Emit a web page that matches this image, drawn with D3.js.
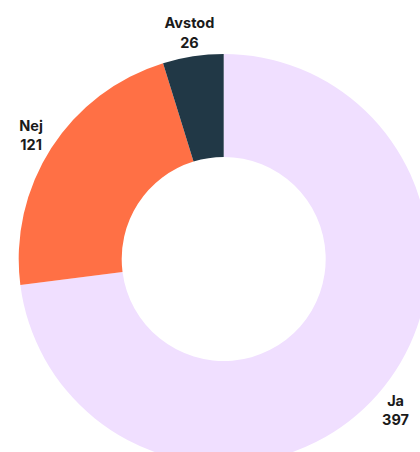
<!DOCTYPE html>
<html><head><meta charset="utf-8">
<script src="https://cdn.jsdelivr.net/npm/d3@7"></script>
<style>body{margin:0;background:#fff}svg{display:block}</style>
</head><body>
<svg id="c" width="420" height="452"></svg>
<script>
const categories = ["Ja", "Nej", "Avstod"];
const values = [397, 121, 26];
const colors = ["#f0dfff", "#ff7045", "#213846"];

const svg = d3.select("#c");
const cx = 223.7, cy = 259, R = 205, r = 102, labelR = 229;
const g = svg.append("g").attr("transform", `translate(${cx},${cy})`);
const data = categories.map((c, i) => ({cat: c, val: values[i], col: colors[i]}));
const pie = d3.pie().value(d => d.val).sort(null);
const arc = d3.arc().innerRadius(r).outerRadius(R);
const arcs = pie(data);
g.selectAll("path").data(arcs).join("path")
  .attr("d", arc).attr("fill", d => d.data.col);
const lab = g.selectAll("text").data(arcs).join("text")
  .attr("text-anchor", "middle")
  .attr("font-family", "Inter, 'DejaVu Sans', sans-serif")
  .attr("font-weight", 700).attr("font-size", 14.5).attr("fill", "#1a1a1a")
  .attr("transform", d => {
    const a = (d.startAngle + d.endAngle) / 2;
    return `translate(${Math.sin(a) * labelR},${-Math.cos(a) * labelR})`;
  });
lab.append("tspan").attr("x", 0).attr("y", -4.5).text(d => d.data.cat);
lab.append("tspan").attr("x", 0).attr("y", 15).text(d => d.data.val);
</script>
</body></html>
